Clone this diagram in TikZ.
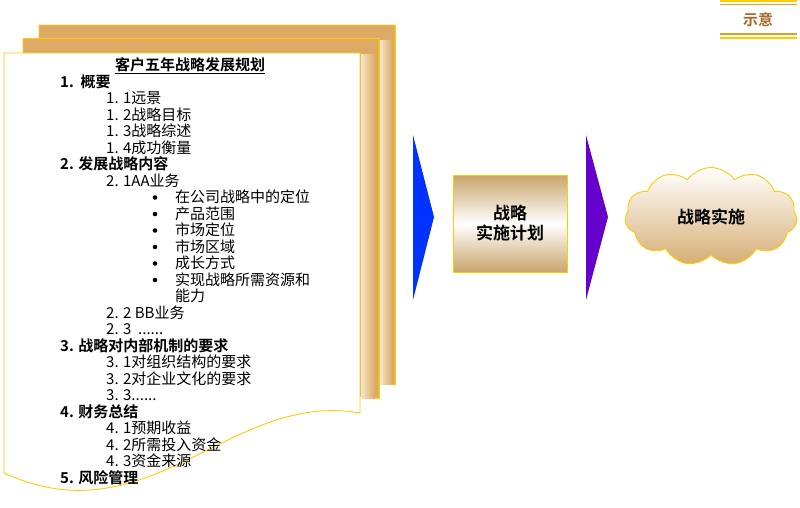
\documentclass[tikz,border=0pt]{standalone}
\usepackage{fontspec}
\setmainfont{Noto Sans CJK SC}[BoldFont={Noto Sans CJK SC Bold}]
\usetikzlibrary{shapes.symbols}
\definecolor{pagetan}{HTML}{DCAA64}
\definecolor{pagelight}{HTML}{F6E6CC}
\definecolor{edgegold}{HTML}{FFCC00}
\definecolor{darkgold}{HTML}{D9A521}
\definecolor{boxtan}{HTML}{C9A56A}
\definecolor{cloudtan}{HTML}{D6AE74}
\definecolor{arrowblue}{HTML}{0033FF}
\definecolor{arrowpurple}{HTML}{6600CC}
\definecolor{markbrown}{HTML}{A5672B}
\begin{document}
\begin{tikzpicture}[x=1pt,y=-1pt,
  pagefill/.style={fill=pagetan,draw=edgegold,line width=0.9pt},
  frontpage/.style={fill=white,draw=edgegold,line width=0.9pt},
  item/.style={anchor=base west,inner sep=0pt,font=\fontsize{15}{15}\selectfont},
  head/.style={item,font=\fontsize{15}{15}\selectfont\bfseries},
  bul/.style={circle,fill=black,inner sep=0pt,minimum size=4.6pt},
  planbox/.style={draw=edgegold,line width=0.9pt,top color=boxtan,bottom color=boxtan,middle color=white,
    minimum width=114pt,minimum height=97pt,inner sep=0pt,align=center,
    font=\fontsize{17}{20}\selectfont\bfseries},
  cloudnode/.style={cloud,cloud puffs=11,cloud puff arc=110,aspect=1.8,draw=edgegold,line width=0.9pt,
    top color=white,bottom color=cloudtan,minimum width=172pt,minimum height=98pt,inner sep=0pt,
    font=\fontsize{17}{20}\selectfont\bfseries}
]
\useasboundingbox (0,0) rectangle (800,507);

% back page
\begin{scope}[shift={(35,-28)}]
  \path[pagefill] (4,53) -- (360,53) -- (360,413) .. controls (230,390) and (150,540) .. (4,473) -- cycle;
\end{scope}
\shade[left color=pagelight,right color=pagetan] (380,40) rectangle (392,384);
\draw[edgegold,line width=0.9pt] (395,25) -- (395,385);
% middle page
\begin{scope}[shift={(19,-14.5)}]
  \path[pagefill] (4,53) -- (360,53) -- (360,413) .. controls (230,390) and (150,540) .. (4,473) -- cycle;
\end{scope}
\shade[left color=pagelight,right color=pagetan] (361,54) rectangle (375,398);
\draw[edgegold,line width=0.9pt] (379,38.5) -- (379,398.5);
% front page
\path[frontpage] (4,53) -- (360,53) -- (360,413) .. controls (230,390) and (150,540) .. (4,473) -- cycle;

% text
\node[anchor=base,inner sep=0pt,font=\fontsize{15}{15}\selectfont\bfseries] (l0) at (190,70.5) {\underline{客户五年战略发展规划}};
\node[head] (l1) at (60,87) {1.\ \ 概要};
\node[item] (l2) at (106,103.5) {1. 1远景};
\node[item] (l3) at (106,120) {1. 2战略目标};
\node[item] (l4) at (106,136.5) {1. 3战略综述};
\node[item] (l5) at (106,153) {1. 4成功衡量};
\node[head] (l6) at (60,169.5) {2. 发展战略内容};
\node[item] (l7) at (106,186) {2. 1AA业务};
\node[bul] (b8) at (155,197.5) {};
\node[item] (l8) at (175,202.5) {在公司战略中的定位};
\node[bul] (b9) at (155,214) {};
\node[item] (l9) at (175,219) {产品范围};
\node[bul] (b10) at (155,230.5) {};
\node[item] (l10) at (175,235.5) {市场定位};
\node[bul] (b11) at (155,247) {};
\node[item] (l11) at (175,252) {市场区域};
\node[bul] (b12) at (155,263.5) {};
\node[item] (l12) at (175,268.5) {成长方式};
\node[bul] (b13) at (155,280) {};
\node[item] (l13) at (175,285) {实现战略所需资源和};
\node[item] (l14) at (175,301.5) {能力};
\node[item] (l15) at (106,318) {2. 2 BB业务};
\node[item] (l16) at (106,334.5) {2. 3\ \ ......};
\node[head] (l17) at (60,351) {3. 战略对内部机制的要求};
\node[item] (l18) at (106,367.5) {3. 1对组织结构的要求};
\node[item] (l19) at (106,384) {3. 2对企业文化的要求};
\node[item] (l20) at (106,400.5) {3. 3......};
\node[head] (l21) at (60,417) {4. 财务总结};
\node[item] (l22) at (106,433.5) {4. 1预期收益};
\node[item] (l23) at (106,450) {4. 2所需投入资金};
\node[item] (l24) at (106,466.5) {4. 3资金来源};
\node[head] (l25) at (60,483) {5. 风险管理};

% chevrons
\fill[arrowblue] (413,135) -- (434,217) -- (413,300) -- cycle;
\fill[arrowpurple] (586,135) -- (608,217) -- (586,300) -- cycle;

% box and cloud
\node[planbox] (plan) at (510,223.5) {战略\\实施计划};
\node[cloudnode] (impl) at (711,216.5) {战略实施};

% mark at top right
\draw[edgegold,line width=1.8pt] (720,1) -- (797,1);
\draw[darkgold,line width=1.8pt] (720,4.5) -- (797,4.5);
\draw[darkgold,line width=1.8pt] (720,34) -- (797,34);
\draw[edgegold,line width=1.5pt] (720,38) -- (797,38);
\node[inner sep=0pt,text=markbrown,font=\fontsize{15}{15}\selectfont\bfseries] (mark) at (758,20) {示意};
\end{tikzpicture}
\end{document}
